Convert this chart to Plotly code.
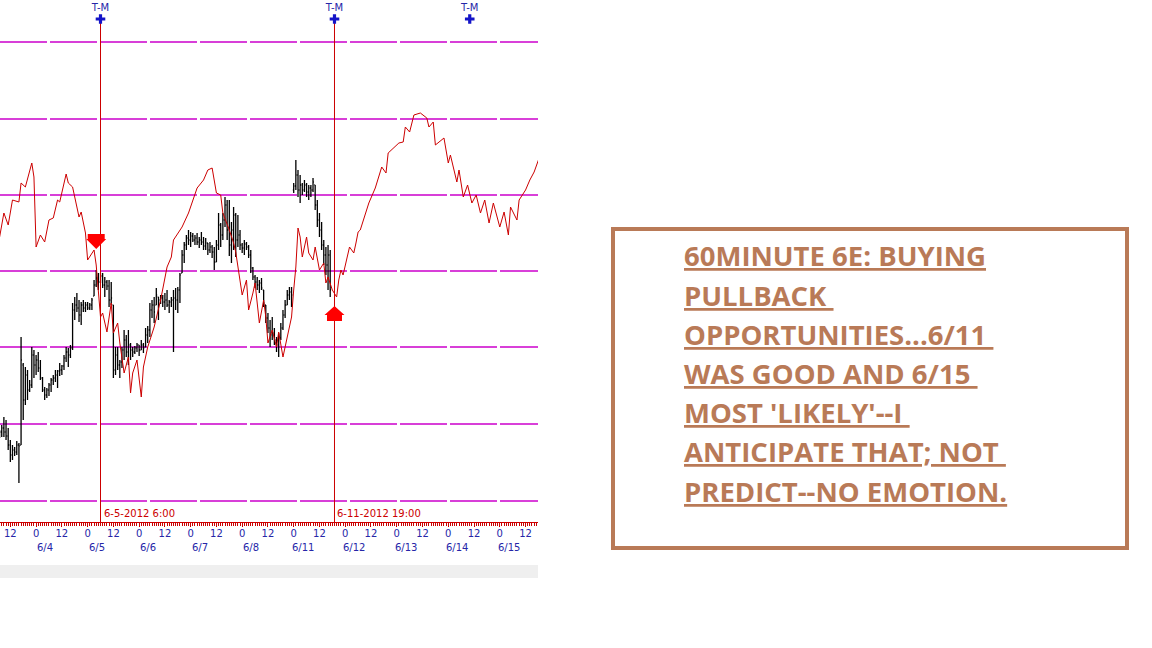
import plotly.graph_objects as go

# hourly bars, hours counted from 6/4 0:00 (weekend skipped)
bar_hours = list(range(-17, 138))

bar_open = [
    1.2306, 1.2310, 1.2314, 1.2310, 1.2306, 1.2297, 1.2287, 1.2292, 1.2290, 1.2297,
    1.2297, 1.2377, 1.2342, 1.2367, 1.2352, 1.2357, 1.2387, 1.2377, 1.2382, 1.2374,
    1.2364, 1.2352, 1.2347, 1.2352, 1.2357, 1.2362, 1.2364, 1.2367, 1.2371, 1.2372,
    1.2376, 1.2384, 1.2390, 1.2387, 1.2394, 1.2432, 1.2437, 1.2434, 1.2427, 1.2437,
    1.2434, 1.2437, 1.2434, 1.2437, 1.2446, 1.2457, 1.2464, 1.2460, 1.2466, 1.2457,
    1.2460, 1.2456, 1.2442, 1.2437, 1.2372, 1.2387, 1.2377, 1.2380, 1.2392, 1.2402,
    1.2390, 1.2397, 1.2392, 1.2390, 1.2394, 1.2397, 1.2392, 1.2397, 1.2395, 1.2407,
    1.2412, 1.2432, 1.2437, 1.2437, 1.2445, 1.2442, 1.2444, 1.2440, 1.2442, 1.2437,
    1.2440, 1.2442, 1.2444, 1.2442, 1.2452, 1.2469, 1.2487, 1.2497, 1.2504, 1.2502,
    1.2506, 1.2502, 1.2504, 1.2500, 1.2502, 1.2500, 1.2496, 1.2499, 1.2492, 1.2495,
    1.2490, 1.2480, 1.2497, 1.2517, 1.2507, 1.2522, 1.2537, 1.2512, 1.2497, 1.2512,
    1.2527, 1.2502, 1.2507, 1.2497, 1.2494, 1.2498, 1.2495, 1.2487, 1.2474, 1.2465,
    1.2460, 1.2457, 1.2459, 1.2452, 1.2437, 1.2424, 1.2414, 1.2407, 1.2409, 1.2402,
    1.2397, 1.2404, 1.2414, 1.2427, 1.2437, 1.2447, 1.2450, 1.2552, 1.2556, 1.2567,
    1.2552, 1.2557, 1.2552, 1.2557, 1.2550, 1.2554, 1.2552, 1.2557, 1.2537, 1.2522,
    1.2512, 1.2497, 1.2487, 1.2477, 1.2487,
]
bar_high = [
    1.2312, 1.2317, 1.2325, 1.2322, 1.2314, 1.2302, 1.2297, 1.2295, 1.2301, 1.2299,
    1.2405, 1.2379, 1.2375, 1.2372, 1.2362, 1.2395, 1.2392, 1.2387, 1.2390, 1.2382,
    1.2365, 1.2355, 1.2354, 1.2359, 1.2364, 1.2367, 1.2372, 1.2372, 1.2379, 1.2377,
    1.2387, 1.2395, 1.2394, 1.2397, 1.2439, 1.2445, 1.2449, 1.2442, 1.2440, 1.2442,
    1.2440, 1.2440, 1.2439, 1.2444, 1.2462, 1.2472, 1.2469, 1.2469, 1.2469, 1.2465,
    1.2462, 1.2462, 1.2460, 1.2437, 1.2395, 1.2395, 1.2382, 1.2395, 1.2412, 1.2407,
    1.2412, 1.2399, 1.2395, 1.2396, 1.2399, 1.2397, 1.2402, 1.2399, 1.2414, 1.2416,
    1.2439, 1.2442, 1.2445, 1.2454, 1.2445, 1.2447, 1.2447, 1.2449, 1.2452, 1.2442,
    1.2445, 1.2452, 1.2454, 1.2455, 1.2469, 1.2492, 1.2500, 1.2507, 1.2512, 1.2510,
    1.2509, 1.2507, 1.2509, 1.2505, 1.2510, 1.2505, 1.2504, 1.2499, 1.2500, 1.2497,
    1.2495, 1.2502, 1.2529, 1.2519, 1.2529, 1.2545, 1.2542, 1.2542, 1.2520, 1.2535,
    1.2529, 1.2527, 1.2512, 1.2499, 1.2502, 1.2500, 1.2497, 1.2492, 1.2475, 1.2467,
    1.2465, 1.2462, 1.2464, 1.2452, 1.2437, 1.2429, 1.2422, 1.2425, 1.2414, 1.2405,
    1.2409, 1.2419, 1.2432, 1.2442, 1.2452, 1.2455, 1.2455, 1.2559, 1.2582, 1.2572,
    1.2567, 1.2559, 1.2562, 1.2559, 1.2557, 1.2557, 1.2564, 1.2557, 1.2542, 1.2529,
    1.2520, 1.2502, 1.2495, 1.2497, 1.2492,
]
bar_low = [
    1.2304, 1.2305, 1.2305, 1.2302, 1.2292, 1.2280, 1.2282, 1.2286, 1.2287, 1.2259,
    1.2297, 1.2322, 1.2337, 1.2342, 1.2350, 1.2354, 1.2364, 1.2367, 1.2370, 1.2362,
    1.2350, 1.2342, 1.2344, 1.2346, 1.2350, 1.2357, 1.2360, 1.2354, 1.2366, 1.2367,
    1.2372, 1.2380, 1.2375, 1.2384, 1.2392, 1.2422, 1.2430, 1.2420, 1.2417, 1.2430,
    1.2430, 1.2432, 1.2432, 1.2432, 1.2446, 1.2455, 1.2452, 1.2459, 1.2454, 1.2445,
    1.2452, 1.2435, 1.2437, 1.2364, 1.2367, 1.2372, 1.2364, 1.2374, 1.2382, 1.2385,
    1.2377, 1.2382, 1.2385, 1.2388, 1.2390, 1.2386, 1.2392, 1.2389, 1.2395, 1.2399,
    1.2405, 1.2424, 1.2419, 1.2437, 1.2422, 1.2438, 1.2435, 1.2432, 1.2435, 1.2429,
    1.2435, 1.2390, 1.2432, 1.2429, 1.2439, 1.2469, 1.2479, 1.2492, 1.2497, 1.2495,
    1.2500, 1.2497, 1.2497, 1.2494, 1.2497, 1.2492, 1.2492, 1.2487, 1.2489, 1.2484,
    1.2472, 1.2480, 1.2492, 1.2495, 1.2502, 1.2515, 1.2502, 1.2486, 1.2479, 1.2492,
    1.2485, 1.2495, 1.2492, 1.2489, 1.2487, 1.2492, 1.2484, 1.2469, 1.2462, 1.2454,
    1.2452, 1.2449, 1.2452, 1.2435, 1.2419, 1.2409, 1.2395, 1.2402, 1.2397, 1.2390,
    1.2385, 1.2402, 1.2412, 1.2424, 1.2437, 1.2442, 1.2435, 1.2549, 1.2552, 1.2545,
    1.2539, 1.2547, 1.2550, 1.2545, 1.2542, 1.2545, 1.2550, 1.2532, 1.2515, 1.2505,
    1.2492, 1.2477, 1.2467, 1.2452, 1.2445,
]
bar_close = [
    1.2310, 1.2314, 1.2310, 1.2306, 1.2297, 1.2287, 1.2292, 1.2290, 1.2297, 1.2296,
    1.2382, 1.2342, 1.2367, 1.2352, 1.2357, 1.2387, 1.2377, 1.2382, 1.2374, 1.2364,
    1.2352, 1.2347, 1.2352, 1.2357, 1.2362, 1.2364, 1.2367, 1.2371, 1.2372, 1.2376,
    1.2384, 1.2390, 1.2387, 1.2394, 1.2432, 1.2437, 1.2434, 1.2427, 1.2437, 1.2434,
    1.2437, 1.2434, 1.2437, 1.2442, 1.2457, 1.2464, 1.2460, 1.2466, 1.2457, 1.2460,
    1.2456, 1.2442, 1.2444, 1.2372, 1.2387, 1.2377, 1.2380, 1.2392, 1.2402, 1.2390,
    1.2397, 1.2392, 1.2390, 1.2394, 1.2397, 1.2392, 1.2397, 1.2394, 1.2407, 1.2412,
    1.2432, 1.2437, 1.2430, 1.2447, 1.2442, 1.2444, 1.2440, 1.2442, 1.2437, 1.2440,
    1.2442, 1.2444, 1.2442, 1.2452, 1.2467, 1.2487, 1.2497, 1.2504, 1.2502, 1.2506,
    1.2502, 1.2504, 1.2500, 1.2502, 1.2500, 1.2496, 1.2499, 1.2492, 1.2495, 1.2490,
    1.2480, 1.2497, 1.2517, 1.2507, 1.2522, 1.2537, 1.2512, 1.2497, 1.2512, 1.2527,
    1.2502, 1.2507, 1.2497, 1.2494, 1.2498, 1.2495, 1.2487, 1.2474, 1.2465, 1.2460,
    1.2457, 1.2459, 1.2454, 1.2439, 1.2424, 1.2414, 1.2407, 1.2409, 1.2402, 1.2397,
    1.2404, 1.2414, 1.2427, 1.2437, 1.2447, 1.2450, 1.2447, 1.2556, 1.2567, 1.2552,
    1.2557, 1.2552, 1.2557, 1.2550, 1.2554, 1.2552, 1.2560, 1.2537, 1.2522, 1.2512,
    1.2497, 1.2487, 1.2477, 1.2487, 1.2452,
]

# red projection line
proj_hours = [
    -17, -15, -13, -11, -8, -7, -5, -2, -1, 0, 2, 4, 6, 8, 10, 11, 14, 15, 17, 20,
    21, 23, 24, 27, 28, 29, 30, 31, 33, 35, 36, 38, 39, 41, 43, 44, 45, 47, 49, 50,
    52, 55, 58, 61, 63, 64, 68, 71, 73, 75, 78, 80, 82, 84, 86, 87, 90, 92, 93, 94,
    96, 98, 99, 101, 102, 104, 106, 107, 108, 110, 112, 113, 115, 117, 119, 120, 121, 122, 123, 124,
    126, 127, 129, 130, 132, 134, 135, 136, 138, 140, 141, 142, 143, 146, 148, 149, 150, 151, 153, 155,
    158, 161, 163, 164, 169, 171, 172, 174, 176, 179, 182, 183, 185, 186, 190, 192, 193, 196, 197, 199,
    201, 203, 205, 207, 209, 211, 213, 216, 218, 220, 221, 224, 225, 228, 230, 232, 234,
]
proj_price = [
    1.2505, 1.2529, 1.2517, 1.2542, 1.2540, 1.2559, 1.2555, 1.2579, 1.2565, 1.2495,
    1.2507, 1.2500, 1.2522, 1.2524, 1.2542, 1.2540, 1.2568, 1.2559, 1.2555, 1.2525,
    1.2530, 1.2509, 1.2482, 1.2492, 1.2477, 1.2447, 1.2425, 1.2429, 1.2410, 1.2439,
    1.2409, 1.2419, 1.2399, 1.2369, 1.2385, 1.2349, 1.2369, 1.2382, 1.2345, 1.2375,
    1.2395, 1.2415, 1.2442, 1.2475, 1.2485, 1.2502, 1.2515, 1.2529, 1.2542, 1.2554,
    1.2562, 1.2572, 1.2574, 1.2549, 1.2547, 1.2529, 1.2512, 1.2499, 1.2490, 1.2477,
    1.2447, 1.2462, 1.2432, 1.2449, 1.2459, 1.2419, 1.2442, 1.2425, 1.2399, 1.2412,
    1.2395, 1.2410, 1.2385, 1.2405, 1.2425, 1.2452, 1.2475, 1.2514, 1.2505, 1.2485,
    1.2505, 1.2489, 1.2482, 1.2495, 1.2472, 1.2479, 1.2459, 1.2465, 1.2452, 1.2445,
    1.2462, 1.2472, 1.2467, 1.2495, 1.2489, 1.2499, 1.2510, 1.2512, 1.2525, 1.2539,
    1.2554, 1.2575, 1.2569, 1.2589, 1.2599, 1.2600, 1.2615, 1.2610, 1.2627, 1.2629,
    1.2624, 1.2615, 1.2620, 1.2597, 1.2604, 1.2579, 1.2587, 1.2560, 1.2572, 1.2545,
    1.2557, 1.2539, 1.2547, 1.2529, 1.2542, 1.2519, 1.2539, 1.2515, 1.2530, 1.2507,
    1.2535, 1.2522, 1.2542, 1.2552, 1.2562, 1.2570, 1.2582,
]

# horizontal price levels (magenta)
level_prices = [1.2700, 1.2623, 1.2547, 1.2471, 1.2395, 1.2318, 1.2241]

# turn markers and vertical date lines
tm_hours = [30, 139, 202]
tm_price = 1.2723
vline_hours = [30, 139]
vline_labels = ["6-5-2012 6:00", "6-11-2012 19:00"]

# signal arrows (hour, price at the tip)
down_arrow = (28, 1.2493)
up_arrow = (139, 1.2436)

tick_hours = list(range(-12, 235, 12))
tick_text = ["0" if t % 24 == 0 else "12" for t in tick_hours]
day_start = [0, 24, 48, 72, 96, 120, 144, 168, 192, 216]
day_labels = ["6/4", "6/5", "6/6", "6/7", "6/8", "6/11", "6/12", "6/13", "6/14", "6/15"]

note_lines = [
    "60MINUTE 6E: BUYING",
    "PULLBACK ",
    "OPPORTUNITIES...6/11 ",
    "WAS GOOD AND 6/15 ",
    "MOST 'LIKELY'--I ",
    "ANTICIPATE THAT; NOT ",
    "PREDICT--NO EMOTION.",
]

x_range = [-16.814, 233.80]
y_range = [1.2220, 1.2742]
RED = "#cc0000"
BLUE = "#2626a8"
BROWN = "#b97a57"

# arrow glyphs in pixels around the tip
DOWN_PATH = "M0,0 L-10,10 L-8.5,10 L-8.5,15 L8.5,15 L8.5,10 L10,10 Z"
UP_PATH = "M0,0 L-10,-9 L-7.5,-9 L-7.5,-15 L7.5,-15 L7.5,-9 L10,-9 Z"

fig = go.Figure()

fig.add_trace(go.Scatter(
    x=proj_hours, y=proj_price, mode="lines",
    line=dict(color=RED, width=1), hoverinfo="skip",
))
fig.add_trace(go.Ohlc(
    x=bar_hours, open=bar_open, high=bar_high, low=bar_low, close=bar_close,
    increasing=dict(line=dict(color="black", width=1.3)),
    decreasing=dict(line=dict(color="black", width=1.3)),
    tickwidth=0.4, hoverinfo="skip",
))

# vertical date lines
for h in vline_hours:
    fig.add_trace(go.Scatter(x=[h, h], y=[y_range[0], tm_price], mode="lines",
                             line=dict(color=RED, width=1), hoverinfo="skip"))

fig.add_trace(go.Scatter(
    x=tm_hours, y=[tm_price] * len(tm_hours), mode="markers+text",
    text=["T-M"] * len(tm_hours), textposition="top center",
    textfont=dict(family="DejaVu Sans", size=10, color=BLUE),
    marker=dict(symbol="cross", size=8, color="#1414c8"),
    cliponaxis=False, hoverinfo="skip",
))

for p in level_prices:
    fig.add_shape(type="line", xref="paper", x0=0, x1=1, yref="y", y0=p, y1=p,
                  line=dict(color="#cc00cc", width=1.5, dash="47px,3px"), layer="below")

for h, lab in zip(vline_hours, vline_labels):
    fig.add_annotation(x=h, xref="x", y=0, yref="paper", text=lab, showarrow=False,
                       xanchor="left", yanchor="bottom", xshift=1, yshift=1,
                       font=dict(family="DejaVu Sans", size=10, color=RED))

for path, (h, p) in [(DOWN_PATH, down_arrow), (UP_PATH, up_arrow)]:
    fig.add_shape(type="path", path=path, xref="x", yref="y",
                  xsizemode="pixel", ysizemode="pixel", xanchor=h, yanchor=p,
                  fillcolor="#ff0000", line=dict(width=0))

for h, lab in zip(day_start, day_labels):
    fig.add_annotation(x=h, xref="x", y=0, yref="paper", text=lab, showarrow=False,
                       xanchor="center", yanchor="middle", xshift=9, yshift=-25,
                       font=dict(family="DejaVu Sans", size=10, color=BLUE))

# grey strip under the axis
fig.add_shape(type="rect", xref="paper", yref="paper", x0=0, x1=1, y0=-0.1073, y1=-0.0824,
              fillcolor="#efefef", line=dict(width=0), layer="below")

# note box
fig.add_shape(type="rect", xref="paper", yref="paper", x0=1.1394, x1=2.0948, y0=-0.0498, y1=0.5613,
              line=dict(color=BROWN, width=4), fillcolor="rgba(0,0,0,0)")
for i, line in enumerate(note_lines):
    fig.add_annotation(x=1.2714, xref="paper", y=0.5077, yref="paper",
                       text="<b><u>" + line + "</u></b>", showarrow=False,
                       xanchor="left", yanchor="middle", yshift=-39.2 * i + 1, xshift=-2,
                       font=dict(family="Open Sans", size=27.5, color=BROWN))

fig.update_layout(
    width=1152, height=648,
    margin=dict(l=0, r=614, t=0, b=126),
    paper_bgcolor="white", plot_bgcolor="white",
    showlegend=False, hovermode=False,
    xaxis=dict(
        range=x_range, tickmode="array", tickvals=tick_hours, ticktext=tick_text,
        ticks="outside", ticklen=4, tickcolor=RED, showline=True, linecolor=RED, linewidth=1,
        showgrid=False, zeroline=False, rangeslider=dict(visible=False),
        tickfont=dict(family="DejaVu Sans", size=10, color=BLUE), ticklabelstandoff=-2,
        minor=dict(tick0=0, dtick=1, ticks="outside", ticklen=3, tickcolor=RED, showgrid=False),
    ),
    yaxis=dict(range=y_range, visible=False),
)

fig.write_html("out.html", config={"displayModeBar": False},
               post_script="document.body.style.margin = '0';")
